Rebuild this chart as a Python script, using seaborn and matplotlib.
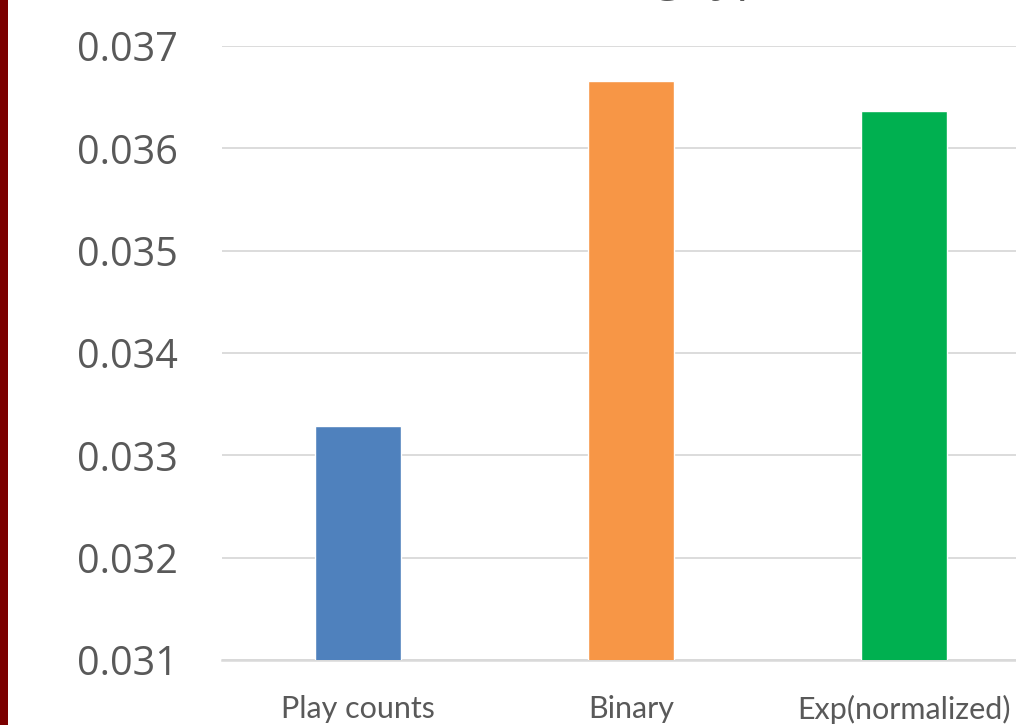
import matplotlib
matplotlib.use("Agg")
import matplotlib.pyplot as plt
import seaborn as sns
import pandas as pd
from matplotlib.patches import Rectangle

categories = ["Play counts", "Binary", "Exp(normalized)"]
values = [0.03329, 0.03666, 0.03636]
bar_colors = ["#4F81BD", "#F79646", "#00B050"]
yticks = [0.031, 0.032, 0.033, 0.034, 0.035, 0.036, 0.037]
ytick_labels = ["0.031", "0.032", "0.033", "0.034", "0.035", "0.036", "0.037"]
title = "Rating types"

sns.set_theme(style="white")
plt.rcParams['font.family'] = ['Open Sans', 'DejaVu Sans']

W, H = 1016, 725
fig = plt.figure(figsize=(W / 100, H / 100), dpi=100)
fig.patch.set_facecolor("white")

ax_left = 221.5 / W
ax_width = 819 / W
ax_bottom = (H - 660) / H
ax_top = (H - 46) / H
ax = fig.add_axes([ax_left, ax_bottom, ax_width, ax_top - ax_bottom])

df = pd.DataFrame({"category": categories, "value": values})
sns.barplot(data=df, x="category", y="value", hue="category",
            palette=bar_colors, width=0.315, ax=ax, legend=False,
            saturation=1, zorder=3)

ax.set_ylim(0.031, 0.037)
ax.set_xlim(-0.5, 2.5)
ax.set_yticks(yticks)
ax.set_yticklabels(ytick_labels)
ax.set_xlabel("")
ax.set_ylabel("")
ax.yaxis.grid(True, color="#D9D9D9", linewidth=1.3, zorder=0)
ax.set_axisbelow(True)
for s in ["top", "right", "left"]:
    ax.spines[s].set_visible(False)
ax.spines["bottom"].set_color("#D9D9D9")
ax.spines["bottom"].set_linewidth(1.8)
ax.tick_params(axis="y", length=0, pad=31.5, labelsize=28.5, labelcolor="#595959")
ax.tick_params(axis="x", length=0, pad=25, labelsize=22, labelcolor="#595959")
for lbl in ax.get_xticklabels():
    lbl.set_fontfamily(["Lato", "DejaVu Sans"])

# title, mostly above the visible region (only descenders show, as in the reference)
fig.text(678 / W, (H + 11) / H, title, ha="center", va="baseline",
         fontsize=35, color="#595959")

# dark red strip on left edge
fig.patches.append(Rectangle((0, 0), 8 / W, 1, transform=fig.transFigure,
                             facecolor="#7B0000", edgecolor="none", zorder=10))

fig.savefig("out.png", dpi=100, facecolor="white")
